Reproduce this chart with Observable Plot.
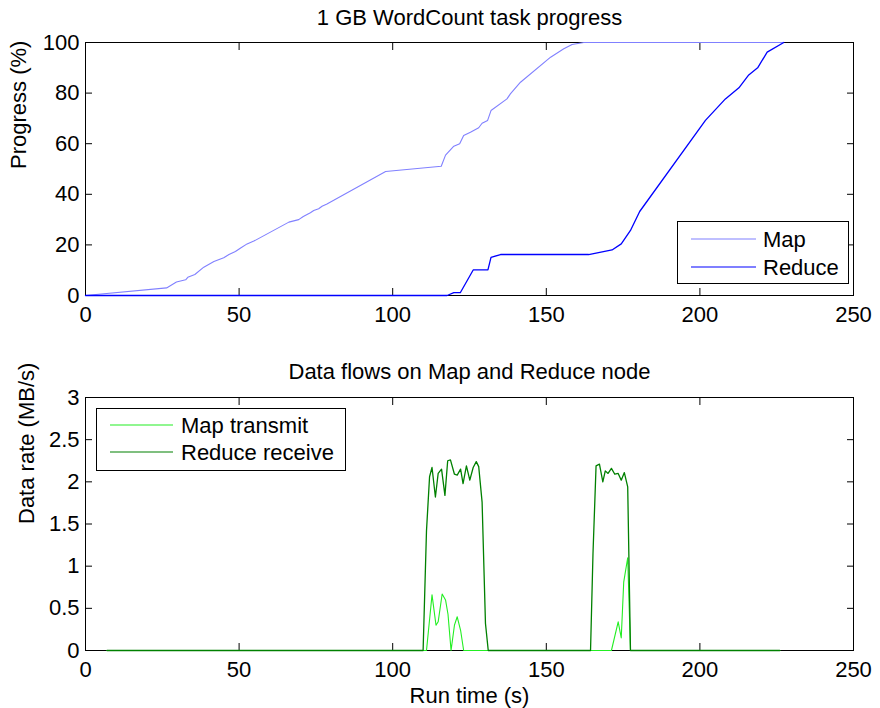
<!DOCTYPE html>
<html>
<head>
<meta charset="utf-8">
<script src="https://cdn.jsdelivr.net/npm/d3@7"></script>
<script src="https://cdn.jsdelivr.net/npm/@observablehq/plot@0.6"></script>
<style>
  html, body { margin: 0; padding: 0; background: white; }
  #chart svg { display: block; }
</style>
</head>
<body>
<div id="chart"></div>
<script>
// ---- Data ----
const topTitle = "1 GB WordCount task progress";
const bottomTitle = "Data flows on Map and Reduce node";
const topYLabel = "Progress (%)";
const bottomYLabel = "Data rate (MB/s)";
const xLabel = "Run time (s)";

const xTicks = [0, 50, 100, 150, 200, 250];
const topYTicks = [0, 20, 40, 60, 80, 100];
const bottomYTicks = [0, 0.5, 1, 1.5, 2, 2.5, 3];

const mapTime = [0, 26.4, 29.6, 32.6, 33.3, 35.6, 38.5, 41.8, 45, 46.7, 48.8, 50.5, 52.6, 54.8, 66.2, 69.4, 70.9, 73.2, 74.3, 75.9, 77, 78.6, 97.7, 115.8, 117.2, 119.9, 121.8, 123.1, 125.3, 128, 129.1, 130.9, 132, 137.2, 138.3, 141.6, 151.4, 155.7, 158.4, 162.2, 227];
const mapProgress = [0, 3, 5.3, 6.2, 7.2, 8.3, 11.2, 13.4, 14.9, 16.2, 17.4, 18.8, 20.4, 21.5, 29, 30, 31.2, 32.7, 33.6, 34.3, 35.3, 36.2, 49, 51.1, 55.5, 59, 60, 63.2, 64.5, 66.3, 68.1, 69.2, 73.1, 77.7, 79.7, 84.3, 94.2, 97.5, 99.2, 100, 100];

const reduceTime = [0, 117.7, 119.9, 122, 126.2, 131, 132, 135.1, 163.8, 171.4, 174.4, 177.4, 180.4, 201.8, 208.3, 212.7, 215.9, 218.8, 221.9, 227.3];
const reduceProgress = [0, 0, 1.1, 1.1, 10.1, 10.1, 15.1, 16.2, 16.2, 18, 20.4, 25.7, 33.2, 69.2, 77.7, 82.1, 87.2, 90, 96.2, 100];

const rxTime = [7, 109.9, 111, 112, 112.8, 113.9, 114.8, 115.9, 117, 117.9, 118.8, 120.1, 121, 122.1, 122.9, 124, 125.1, 126.2, 127.2, 128, 129.1, 130.2, 131.1, 164.4, 165.2, 166.2, 167.3, 168.4, 169.2, 170.1, 171.2, 172.3, 173.4, 174.4, 175.4, 176.5, 177.4, 226];
const rxRate = [0, 0, 1.42, 2.06, 2.17, 1.82, 2.1, 2.15, 1.84, 2.25, 2.26, 2.09, 2.08, 2.15, 1.98, 2.19, 2.02, 2.17, 2.24, 2.18, 1.76, 0.32, 0, 0, 1.15, 2.19, 2.21, 2.0, 2.13, 2.1, 2.16, 2.09, 2.1, 2.02, 2.11, 1.94, 0, 0];

const txTime = [7, 111, 112.8, 114.1, 114.8, 116.1, 117.2, 118, 119, 120.1, 121, 122.1, 123.1, 171.2, 173.4, 174.4, 175.2, 176.5, 177.4, 226];
const txRate = [0, 0, 0.66, 0.3, 0.34, 0.67, 0.6, 0.43, 0, 0.3, 0.4, 0.24, 0, 0, 0.34, 0.15, 0.81, 1.1, 0, 0];

const topSeries = ["Map", "Reduce"];
const bottomSeries = ["Map transmit", "Reduce receive"];
const colors = {"Map": "#8080ff", "Reduce": "#0000ff", "Map transmit": "#22ee22", "Reduce receive": "#008000"};

// ---- Tables built from the arrays ----
const mapRows = mapTime.map((t, i) => ({t, v: mapProgress[i]}));
const reduceRows = reduceTime.map((t, i) => ({t, v: reduceProgress[i]}));
const rxRows = rxTime.map((t, i) => ({t, v: rxRate[i]}));
const txRows = txTime.map((t, i) => ({t, v: txRate[i]}));

const FONT = "'Liberation Sans', Arial, Helvetica, sans-serif";
const FS = 22;

function frameAxes(yTicks, yFormat) {
  return [
    Plot.frame({stroke: "black", strokeWidth: 1}),
    Plot.axisX({ticks: xTicks, tickSize: -7, tickPadding: 18, label: null, fontSize: FS, stroke: "black", fill: "black"}),
    Plot.axisX({ticks: xTicks, anchor: "top", tickSize: -7, tickFormat: () => "", label: null, stroke: "black"}),
    Plot.axisY({ticks: yTicks, tickSize: -7, tickPadding: 13, tickFormat: yFormat, label: null, fontSize: FS, stroke: "black", fill: "black"}),
    Plot.axisY({ticks: yTicks, anchor: "right", tickSize: -7, tickFormat: () => "", label: null, stroke: "black"})
  ];
}

const topPlot = Plot.plot({
  width: 880, height: 340,
  marginTop: 42, marginBottom: 45, marginLeft: 85, marginRight: 27,
  style: {fontFamily: FONT, fontSize: FS + "px", background: "white", color: "black"},
  x: {domain: [0, 250], label: null},
  y: {domain: [0, 100], label: null},
  marks: [
    ...frameAxes(topYTicks, d => String(d)),
    Plot.line(mapRows, {x: "t", y: "v", stroke: colors["Map"], strokeWidth: 1.1}),
    Plot.line(reduceRows, {x: "t", y: "v", stroke: colors["Reduce"], strokeWidth: 1.3}),
    Plot.text([topTitle], {frameAnchor: "top", dy: -25, fontSize: FS, fill: "black", lineAnchor: "middle"}),
    Plot.text([topYLabel], {frameAnchor: "left", dx: -67, rotate: -90, fontSize: FS, fill: "black", lineAnchor: "middle"})
  ]
});

const bottomPlot = Plot.plot({
  width: 880, height: 368,
  marginTop: 57, marginBottom: 58, marginLeft: 85, marginRight: 27,
  style: {fontFamily: FONT, fontSize: FS + "px", background: "white", color: "black"},
  x: {domain: [0, 250], label: null},
  y: {domain: [0, 3], label: null},
  marks: [
    ...frameAxes(bottomYTicks, d => String(d)),
    Plot.line(txRows, {x: "t", y: "v", stroke: colors["Map transmit"], strokeWidth: 1.1}),
    Plot.line(rxRows, {x: "t", y: "v", stroke: colors["Reduce receive"], strokeWidth: 1.3}),
    Plot.text([bottomTitle], {frameAnchor: "top", dy: -26, fontSize: FS, fill: "black", lineAnchor: "middle"}),
    Plot.text([bottomYLabel], {frameAnchor: "left", dx: -59, rotate: -90, fontSize: FS, fill: "black", lineAnchor: "middle"}),
    Plot.text([xLabel], {frameAnchor: "bottom", dy: 45, fontSize: FS, fill: "black", lineAnchor: "middle"})
  ]
});

// ---- Legends ----
function addLegend(svgNode, names, box, lineX1, lineX2, textX, rowYs) {
  const svg = d3.select(svgNode);
  const g = svg.append("g").attr("class", "legend");
  g.append("rect").attr("x", box[0]).attr("y", box[1]).attr("width", box[2]).attr("height", box[3])
    .attr("fill", "white").attr("stroke", "black").attr("stroke-width", 1);
  names.forEach((name, i) => {
    g.append("line").attr("x1", lineX1).attr("x2", lineX2).attr("y1", rowYs[i]).attr("y2", rowYs[i])
      .attr("stroke", colors[name]).attr("stroke-width", 1.2);
    g.append("text").attr("x", textX).attr("y", rowYs[i]).attr("dy", "0.36em")
      .attr("text-anchor", "start")
      .attr("font-family", FONT).attr("font-size", FS).attr("fill", "black").text(name);
  });
}

addLegend(topPlot, topSeries, [677.5, 221.5, 171, 62], 691, 756, 763, [239, 267]);
addLegend(bottomPlot, bottomSeries, [96.5, 68.5, 249, 62], 110, 173, 181, [85, 112]);

const chart = document.getElementById("chart");
chart.appendChild(topPlot);
chart.appendChild(bottomPlot);
</script>
</body>
</html>
